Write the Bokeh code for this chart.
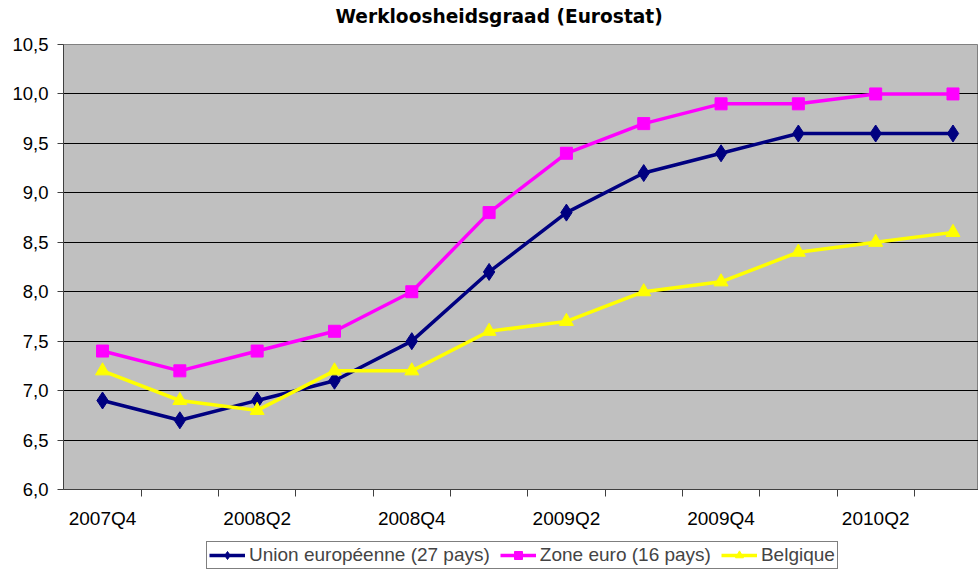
from bokeh.plotting import figure
from bokeh.layouts import column
from bokeh.models import Range1d, FixedTicker, Legend, LegendItem, Title
from bokeh.embed import file_html
from bokeh.resources import INLINE

categories = ["2007Q4", "2008Q1", "2008Q2", "2008Q3", "2008Q4", "2009Q1",
              "2009Q2", "2009Q3", "2009Q4", "2010Q1", "2010Q2", "2010Q3"]
eu27 = [6.9, 6.7, 6.9, 7.1, 7.5, 8.2, 8.8, 9.2, 9.4, 9.6, 9.6, 9.6]
ez16 = [7.4, 7.2, 7.4, 7.6, 8.0, 8.8, 9.4, 9.7, 9.9, 9.9, 10.0, 10.0]
belgique = [7.2, 6.9, 6.8, 7.2, 7.2, 7.6, 7.7, 8.0, 8.1, 8.4, 8.5, 8.6]
y_ticks = [6.0, 6.5, 7.0, 7.5, 8.0, 8.5, 9.0, 9.5, 10.0, 10.5]
label_every = 2

x = list(range(len(categories)))

p = figure(width=978, height=531, output_backend="svg", toolbar_location=None,
           x_range=Range1d(-0.505, 11.33), y_range=Range1d(6.0, 10.5),
           min_border_left=63, min_border_right=0, min_border_top=44,
           min_border_bottom=40, background_fill_color="#C0C0C0",
           border_fill_color="white", outline_line_color="#808080")

p.title.text = "Werkloosheidsgraad (Eurostat)"
p.title.text_font = "DejaVu Sans"
p.title.text_font_style = "bold"
p.title.text_font_size = "18.6px"
p.title.text_color = "black"
p.title.align = "left"
p.title.offset = 272
p.title.standoff = 5

# small blank band between the title and the plot area
p.add_layout(Title(text=" ", text_font_size="8px", standoff=4), "above")

# x axis
p.xaxis.ticker = FixedTicker(ticks=x[::label_every],
                             minor_ticks=[i + 0.5 for i in x])
p.xaxis.major_label_overrides = {i: categories[i] for i in x}
p.xaxis.major_tick_line_color = None
p.xaxis.major_tick_out = 0
p.xaxis.major_tick_in = 0
p.xaxis.minor_tick_out = 7
p.xaxis.minor_tick_in = 0
p.xaxis.minor_tick_line_color = "#404040"
p.xaxis.axis_line_color = "#404040"
p.xaxis.major_label_standoff = 11
p.xaxis.major_label_text_font = "Liberation Sans"
p.xaxis.major_label_text_font_size = "19px"
p.xaxis.major_label_text_color = "black"

# y axis
p.yaxis.ticker = FixedTicker(ticks=y_ticks, minor_ticks=[])
p.yaxis.major_label_overrides = {t: f"{t:.1f}".replace(".", ",") for t in y_ticks}
p.yaxis.major_tick_out = 6
p.yaxis.major_tick_in = 0
p.yaxis.major_tick_line_color = "#404040"
p.yaxis.axis_line_color = "#404040"
p.yaxis.major_label_standoff = 9
p.yaxis.major_label_text_font = "Liberation Sans"
p.yaxis.major_label_text_font_size = "18.5px"
p.yaxis.major_label_text_color = "black"

p.xgrid.grid_line_color = None
p.ygrid.ticker = FixedTicker(ticks=y_ticks)
p.ygrid.grid_line_color = "black"
p.ygrid.grid_line_width = 1

series = [
    ("Union européenne (27 pays)", eu27, "#000080", "diamond", 17),
    ("Zone euro (16 pays)", ez16, "#FF00FF", "square", 12),
    ("Belgique", belgique, "#FFFF00", "triangle", 14),
]

# legend strip below the chart (its glyphs fall outside its own view)
lg = figure(width=978, height=40, output_backend="svg", toolbar_location=None,
            x_range=Range1d(-0.505, 11.33), y_range=Range1d(100, 101),
            x_axis_type=None, y_axis_type=None,
            min_border_left=0, min_border_right=0, min_border_top=0,
            min_border_bottom=0, background_fill_color="white",
            border_fill_color="white", outline_line_color=None)
lg.xgrid.grid_line_color = None
lg.ygrid.grid_line_color = None

items = []
for name, vals, color, marker, size in series:
    p.line(x, vals, line_color=color, line_width=3.5)
    p.scatter(x, vals, marker=marker, size=size, fill_color=color,
              line_color=color)
    l = lg.line(x, vals, line_color=color, line_width=3.5)
    s = lg.scatter(x, vals, marker=marker, size=size, fill_color=color,
                   line_color=color)
    items.append(LegendItem(label=name, renderers=[l, s]))

legend = Legend(items=items, orientation="horizontal", location=(143, 2),
                border_line_color="black", border_line_width=1,
                background_fill_color="white", background_fill_alpha=1,
                label_text_font="Liberation Sans", label_text_font_size="19px",
                glyph_width=36, glyph_height=20, label_height=20,
                label_standoff=4, spacing=10, padding=2, margin=0)
lg.add_layout(legend, "center")

layout = column(p, lg, spacing=0)
open("out.html", "w").write(file_html(layout, INLINE))
